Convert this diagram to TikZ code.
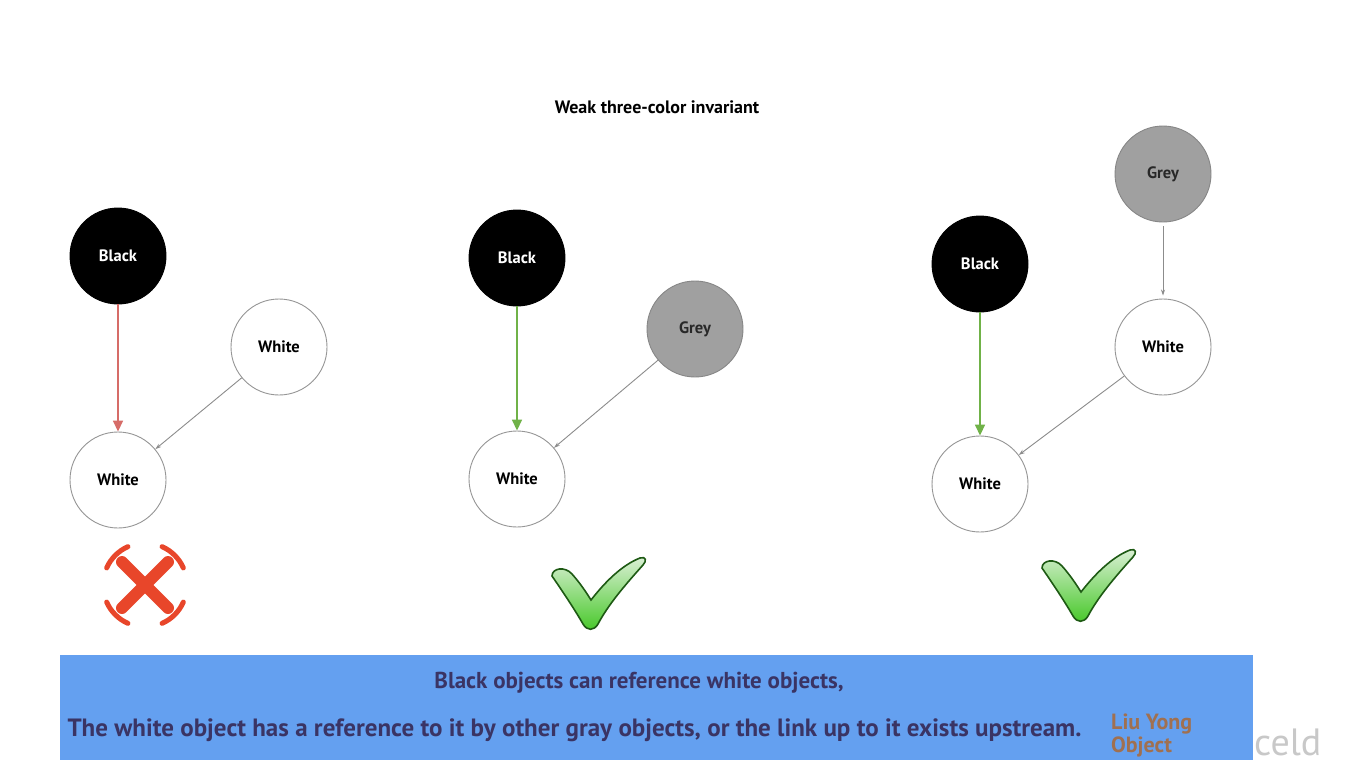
\documentclass[tikz,border=0pt]{standalone}
\usepackage{fontspec}
\setmainfont{PT Sans}
\usetikzlibrary{arrows.meta}
\definecolor{redarrow}{RGB}{214,108,104}
\definecolor{greenarrow}{RGB}{112,178,72}
\definecolor{greyfill}{RGB}{160,160,160}
\definecolor{banner}{RGB}{100,160,240}
\definecolor{bannertext}{RGB}{58,52,100}
\definecolor{brownt}{RGB}{160,112,80}
\definecolor{xred}{RGB}{232,70,42}
\definecolor{chkdark}{RGB}{30,90,20}
\definecolor{chklight}{RGB}{220,240,215}
\definecolor{chkgreen}{RGB}{70,200,40}
\tikzset{
  obj/.style={circle, minimum size=96pt, inner sep=0pt, draw={rgb,255:red,150;green,150;blue,150}, line width=0.9pt, font=\bfseries\fontsize{16.5}{18}\selectfont},
  blackobj/.style={obj, fill=black, text=white, draw=black},
  whiteobj/.style={obj, fill=white, text=black},
  greyobj/.style={obj, fill=greyfill, text={rgb,255:red,40;green,40;blue,40}, draw={rgb,255:red,135;green,135;blue,135}},
  redref/.style={draw=redarrow, line width=1.6pt, -{Triangle[length=11pt,width=10pt]}},
  greenref/.style={draw=greenarrow, line width=1.6pt, -{Triangle[length=11pt,width=10pt]}},
  greyref/.style={draw={rgb,255:red,140;green,140;blue,140}, line width=0.9pt, -{Stealth[length=6pt,width=4pt]}},
  bannertxt/.style={text=bannertext, font=\bfseries\fontsize{23}{26}\selectfont},
  chk/.style={draw=chkdark, line width=1.6pt, top color=chklight, bottom color=chkgreen}
}
\newcommand{\checkshape}{%
  (1,19) .. controls (1,11) and (14,9) .. (21,17)
  .. controls (29,26) and (35,35) .. (40,43)
  .. controls (54,25) and (71,8) .. (89,1)
  .. controls (95,-1) and (96,4) .. (92,8)
  .. controls (74,28) and (57,48) .. (47,67)
  .. controls (43,74) and (36,74) .. (32,67)
  .. controls (24,53) and (12,35) .. (1,19) -- cycle}
\begin{document}
\begin{tikzpicture}[x=1pt,y=-1pt]
\useasboundingbox (0,0) rectangle (1348,776);
\fill[white] (0,0) rectangle (1348,776);

\node[font=\bfseries\fontsize{18}{20}\selectfont] (title) at (657,107) {Weak three-color invariant};

% panel 1
\node[blackobj] (b1) at (118,256) {Black};
\node[whiteobj] (w1a) at (279,347) {White};
\node[whiteobj] (w1b) at (118,480) {White};
\draw[redref] (b1) -- (w1b);
\draw[greyref] (w1a) -- (w1b);

% panel 2
\node[blackobj] (b2) at (517,258) {Black};
\node[greyobj] (g2) at (695,329) {Grey};
\node[whiteobj] (w2) at (517,479) {White};
\draw[greenref] (b2) -- (w2);
\draw[greyref] (g2) -- (w2);

% panel 3
\node[greyobj] (g3) at (1163,174) {Grey};
\node[blackobj] (b3) at (980,264) {Black};
\node[whiteobj] (w3a) at (1163,347) {White};
\node[whiteobj] (w3b) at (980,484) {White};
\draw[greenref] (b3) -- (w3b);
\draw[greyref] ([yshift=-4pt]g3.south) -- ([yshift=3pt]w3a.north);
\draw[greyref] (w3a) -- (w3b);

% red cross
\begin{scope}[shift={(145,585)}]
  \draw[xred, line width=12pt, line cap=round] (-23,-23) -- (23,23);
  \draw[xred, line width=12pt, line cap=round] (23,-23) -- (-23,23);
  \foreach \a in {45,135,225,315}
    \draw[xred, line width=5pt, line cap=round] ({\a-21}:42) arc[start angle=\a-21, end angle=\a+21, radius=42];
\end{scope}

% check marks
\begin{scope}[shift={(551,557)}]
  \path[chk] \checkshape;
\end{scope}
\begin{scope}[shift={(1041,549)}]
  \path[chk] \checkshape;
\end{scope}

% banner
\node[fill=banner, minimum width=1193pt, minimum height=105pt, inner sep=0pt, anchor=north west] (banner) at (60,655) {};
\node[bannertxt] (line1) at (639,683) {Black objects can reference white objects,};
\node[bannertxt, font=\bfseries\fontsize{25}{28}\selectfont, anchor=west] (line2) at (64,730) {The white object has a reference to it by other gray objects, or the link up to it exists upstream.};
\node[text=brownt, font=\bfseries\fontsize{22}{23}\selectfont, align=left, anchor=north west, inner sep=0pt] (liu) at (1111,714) {Liu Yong\\Object};
\node[text={rgb,255:red,200;green,200;blue,200}, font=\fontsize{38}{40}\selectfont, anchor=west, inner sep=0pt] (celd) at (1254,742) {celd};
\end{tikzpicture}
\end{document}
